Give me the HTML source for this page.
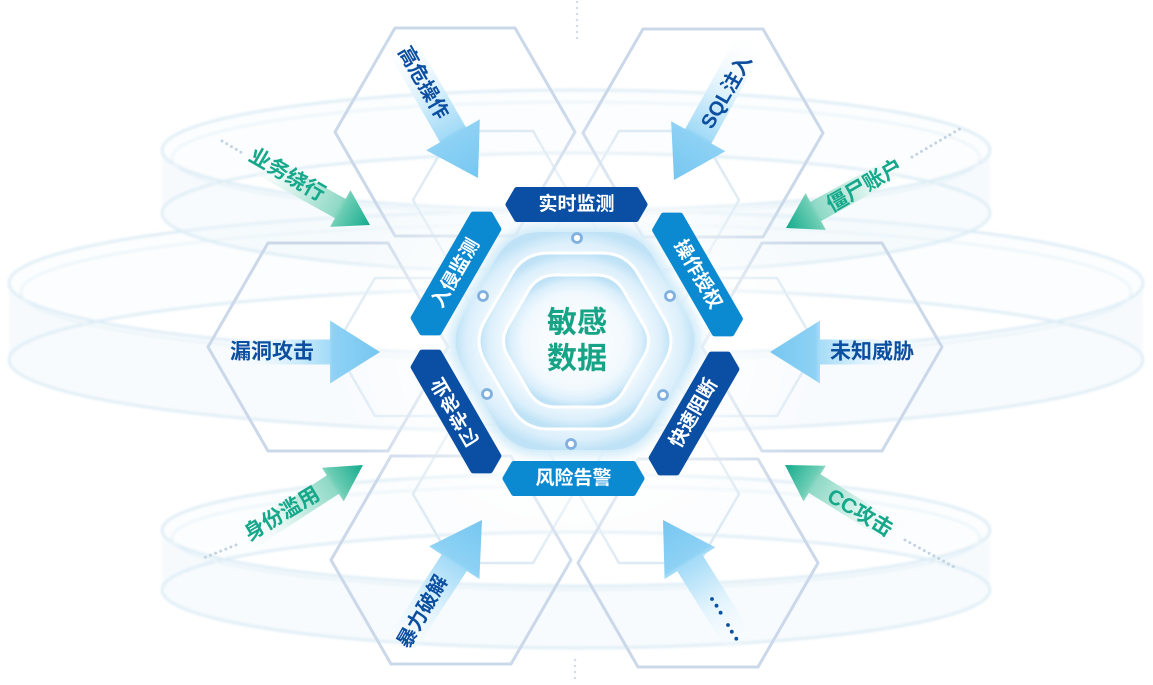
<!DOCTYPE html>
<html><head><meta charset="utf-8"><style>
html,body{margin:0;padding:0;background:#fff;}
svg{display:block;}
text{font-family:"Liberation Sans","Noto Sans CJK SC",sans-serif;}
</style></head><body>
<svg width="1153" height="685" viewBox="0 0 1153 685" xmlns="http://www.w3.org/2000/svg">
<defs>
  <linearGradient id="lb" x1="0" y1="0" x2="1" y2="0">
    <stop offset="0" stop-color="#ffffff" stop-opacity="0"/>
    <stop offset="0.4" stop-color="#dcf1fc"/>
    <stop offset="0.68" stop-color="#a4dbf7"/>
    <stop offset="0.7" stop-color="#8ed2f5"/>
    <stop offset="1" stop-color="#76c6f0"/>
  </linearGradient>
  <linearGradient id="gr" x1="0" y1="0" x2="1" y2="0">
    <stop offset="0" stop-color="#ffffff" stop-opacity="0"/>
    <stop offset="0.4" stop-color="#d6f1ea"/>
    <stop offset="0.74" stop-color="#8fd9c6"/>
    <stop offset="0.78" stop-color="#6ccdb4"/>
    <stop offset="1" stop-color="#13ab8c"/>
  </linearGradient>
  <radialGradient id="hx" cx="0.5" cy="0.5" r="0.5">
    <stop offset="0" stop-color="#ffffff"/>
    <stop offset="0.72" stop-color="#f2f9fe"/>
    <stop offset="0.9" stop-color="#dbeffb"/>
    <stop offset="1" stop-color="#bfe2f6"/>
  </radialGradient>
  <radialGradient id="glow" cx="0.5" cy="0.5" r="0.5">
    <stop offset="0" stop-color="#ffffff" stop-opacity="0.9"/>
    <stop offset="0.6" stop-color="#ffffff" stop-opacity="0.55"/>
    <stop offset="1" stop-color="#ffffff" stop-opacity="0"/>
  </radialGradient>
  <filter id="bl" x="-20%" y="-20%" width="140%" height="140%"><feGaussianBlur stdDeviation="1.2"/></filter>
  <filter id="bl4" x="-20%" y="-20%" width="140%" height="140%"><feGaussianBlur stdDeviation="5"/></filter>
</defs>

<!-- rings -->
<g filter="url(#bl)" opacity="0.8">
  <path d="M9,283 A567,72 0 0 0 1143,283 L1143,360 A567,72 0 0 1 9,360 Z" fill="#e8f3fa" opacity="0.4"/>
  <path d="M9,283 A567,72 0 0 1 1143,283 L1143,360 A567,72 0 0 0 9,360 Z" fill="#eef6fb" opacity="0.25"/>
  <ellipse cx="576" cy="283" rx="567" ry="72" fill="none" stroke="#d3e7f3" stroke-width="2.5"/>
  <ellipse cx="576" cy="360" rx="567" ry="72" fill="none" stroke="#d3e7f3" stroke-width="2.5"/>
  <ellipse cx="576" cy="292" rx="555" ry="68" fill="none" stroke="#e3f0f7" stroke-width="2"/>
  <path d="M162,150 A414,60 0 0 0 990,150 L990,213 A414,60 0 0 1 162,213 Z" fill="#e6f2f9" opacity="0.4"/>
  <path d="M162,150 A414,60 0 0 1 990,150 L990,213 A414,60 0 0 0 162,213 Z" fill="#eef6fb" opacity="0.25"/>
  <ellipse cx="576" cy="150" rx="414" ry="60" fill="none" stroke="#d3e7f3" stroke-width="2.5"/>
  <ellipse cx="576" cy="213" rx="414" ry="60" fill="none" stroke="#d3e7f3" stroke-width="2.5"/>
  <ellipse cx="576" cy="158" rx="404" ry="56" fill="none" stroke="#e3f0f7" stroke-width="2"/>
  <path d="M162,530 A414,56 0 0 0 990,530 L990,590 A414,58 0 0 1 162,590 Z" fill="#e6f2f9" opacity="0.4"/>
  <path d="M162,530 A414,56 0 0 1 990,530 L990,590 A414,58 0 0 0 162,590 Z" fill="#eef6fb" opacity="0.25"/>
  <ellipse cx="576" cy="530" rx="414" ry="56" fill="none" stroke="#d3e7f3" stroke-width="2.5"/>
  <ellipse cx="576" cy="590" rx="414" ry="58" fill="none" stroke="#d3e7f3" stroke-width="2.5"/>
  <ellipse cx="576" cy="538" rx="404" ry="52" fill="none" stroke="#e3f0f7" stroke-width="2"/>
</g>

<!-- secondary faint hexes -->
<g fill="none" stroke="#dbe9f3" stroke-width="2.5" stroke-linejoin="round">
  <polygon points="413,200 453,131 533,131 573,200 533,269 453,269"/>
  <polygon points="579,200 619,131 699,131 739,200 699,269 619,269"/>
  <polygon points="335,347 375,278 455,278 495,347 455,416 375,416"/>
  <polygon points="657,347 697,278 777,278 817,347 777,416 697,416"/>
  <polygon points="413,494 453,425 533,425 573,494 533,563 453,563"/>
  <polygon points="579,494 619,425 699,425 739,494 699,563 619,563"/>
</g>

<!-- outer hexes -->
<g fill="none" stroke="#cad8e9" stroke-width="3" stroke-linejoin="round">
  <polygon points="335,132 395,28 515,28 575,132 515,236 395,236"/>
  <polygon points="583,133 643,29 763,29 823,133 763,237 643,237"/>
  <polygon points="208,347 268,243 388,243 448,347 388,451 268,451"/>
  <polygon points="702,347 762,243 882,243 942,347 882,451 762,451"/>
  <polygon points="331,560 391,456 511,456 571,560 511,664 391,664"/>
  <polygon points="578,563 638,459 758,459 818,563 758,667 638,667"/>
</g>

<line x1="577" y1="2" x2="577" y2="40" stroke="#d3dbe5" stroke-width="2.5" stroke-linecap="round" stroke-dasharray="0 6"/>
<line x1="575" y1="660" x2="575" y2="684" stroke="#d3dbe5" stroke-width="2.5" stroke-linecap="round" stroke-dasharray="0 6"/>

<ellipse cx="576" cy="345" rx="255" ry="235" fill="url(#glow)"/>

<!-- central hexes -->
<path d="M462.1,315.1 L495.9,256.9 Q511,231 541,231 L609,231 Q639,231 654.1,256.9 L687.9,315.1 Q703,341 687.9,366.9 L654.1,425.1 Q639,451 609,451 L541,451 Q511,451 495.9,425.1 L462.1,366.9 Q447,341 462.1,315.1 Z" fill="none" stroke="#cde9f8" stroke-width="10" filter="url(#bl4)"/>
<path d="M462.1,315.1 L495.9,256.9 Q511,231 541,231 L609,231 Q639,231 654.1,256.9 L687.9,315.1 Q703,341 687.9,366.9 L654.1,425.1 Q639,451 609,451 L541,451 Q511,451 495.9,425.1 L462.1,366.9 Q447,341 462.1,315.1 Z" fill="url(#hx)" stroke="#d6edfa" stroke-width="2"/>
<path d="M485,320.2 L512,273.8 Q524,253 548,253 L602,253 Q626,253 638,273.8 L665,320.2 Q677,341 665,361.8 L638,408.2 Q626,429 602,429 L548,429 Q524,429 512,408.2 L485,361.8 Q473,341 485,320.2 Z" fill="url(#hx)" stroke="#ffffff" stroke-width="3"/>
<path d="M508.1,325.5 L528.4,290.6 Q537.5,275 555.5,275 L596.5,275 Q614.5,275 623.6,290.6 L643.9,325.5 Q653,341 643.9,356.5 L623.6,391.4 Q614.5,407 596.5,407 L555.5,407 Q537.5,407 528.4,391.4 L508.1,356.5 Q499,341 508.1,325.5 Z" fill="url(#hx)" stroke="#ffffff" stroke-width="3"/>

<text x="577" y="323" font-size="30" font-weight="bold" fill="#17a486" text-anchor="middle" dominant-baseline="central">敏感</text>
<text x="577" y="359" font-size="30" font-weight="bold" fill="#17a486" text-anchor="middle" dominant-baseline="central">数据</text>

<g fill="#ffffff" stroke="#7fb0df" stroke-width="2.8">
  <circle cx="577" cy="238" r="4.5"/>
  <circle cx="483" cy="296" r="4.5"/>
  <circle cx="670" cy="296" r="4.5"/>
  <circle cx="487" cy="394" r="4.5"/>
  <circle cx="663" cy="395" r="4.5"/>
  <circle cx="571" cy="444" r="4.5"/>
</g>

<!-- labels -->
<g font-size="19" font-weight="bold" fill="#ffffff" text-anchor="middle">
  <g transform="translate(576.5,204.5)">
    <polygon points="-68,0 -59.6,-14.5 59.6,-14.5 68,0 59.6,14.5 -59.6,14.5" fill="#0a4fa3" stroke="#0a4fa3" stroke-width="6" stroke-linejoin="round"/>
    <text x="0" y="0" dominant-baseline="central">实时监测</text>
  </g>
  <g transform="translate(573.5,478.5)">
    <polygon points="-68,0 -59.6,-14.5 59.6,-14.5 68,0 59.6,14.5 -59.6,14.5" fill="#0b89d1" stroke="#0b89d1" stroke-width="6" stroke-linejoin="round"/>
    <text x="0" y="0" dominant-baseline="central">风险告警</text>
  </g>
  <g transform="translate(456,273.5) rotate(-60)">
    <polygon points="-68,0 -59.6,-14.5 59.6,-14.5 68,0 59.6,14.5 -59.6,14.5" fill="#0b89d1" stroke="#0b89d1" stroke-width="6" stroke-linejoin="round"/>
    <text x="0" y="0" dominant-baseline="central">入侵监测</text>
  </g>
  <g transform="translate(697.5,274.5) rotate(60)">
    <polygon points="-68,0 -59.6,-14.5 59.6,-14.5 68,0 59.6,14.5 -59.6,14.5" fill="#0b89d1" stroke="#0b89d1" stroke-width="6" stroke-linejoin="round"/>
    <text x="0" y="0" dominant-baseline="central">操作授权</text>
  </g>
  <g transform="translate(456,411.5) rotate(60)">
    <polygon points="-68,0 -59.6,-14.5 59.6,-14.5 68,0 59.6,14.5 -59.6,14.5" fill="#0a4fa3" stroke="#0a4fa3" stroke-width="6" stroke-linejoin="round"/>
    <text x="0" y="0" dominant-baseline="central" transform="scale(1,-1)">业务学习</text>
  </g>
  <g transform="translate(694,413.5) rotate(-60)">
    <polygon points="-68,0 -59.6,-14.5 59.6,-14.5 68,0 59.6,14.5 -59.6,14.5" fill="#0a4fa3" stroke="#0a4fa3" stroke-width="6" stroke-linejoin="round"/>
    <text x="0" y="0" dominant-baseline="central">快速阻断</text>
  </g>
</g>

<g stroke="#c3d3e2" stroke-width="3" stroke-linecap="round" stroke-dasharray="0 5.5" fill="none">
  <line x1="222" y1="141" x2="244" y2="154"/>
  <line x1="912" y1="157" x2="963" y2="127"/>
  <line x1="236" y1="545" x2="201" y2="559"/>
  <line x1="905" y1="540" x2="956" y2="568"/>
</g>

<polygon transform="translate(478,178) rotate(60)" points="0,0 -50,-31 -50,-15 -165,-15 -165,15 -50,15 -50,31" fill="url(#lb)"/>
<polygon transform="translate(674,180) rotate(119)" points="0,0 -50,-31 -50,-15 -165,-15 -165,15 -50,15 -50,31" fill="url(#lb)"/>
<polygon transform="translate(380,352)" points="0,0 -50,-31.5 -50,-12.5 -158,-12.5 -158,12.5 -50,12.5 -50,31.5" fill="url(#lb)"/>
<polygon transform="translate(770,352) rotate(180)" points="0,0 -50,-31.5 -50,-12.5 -152,-12.5 -152,12.5 -50,12.5 -50,31.5" fill="url(#lb)"/>
<polygon transform="translate(482,520) rotate(-57)" points="0,0 -51,-30 -51,-15 -162,-15 -162,15 -51,15 -51,30" fill="url(#lb)"/>
<polygon transform="translate(663,520) rotate(-122)" points="0,0 -51,-30 -51,-15 -155,-15 -155,15 -51,15 -51,30" fill="url(#lb)"/>

<polygon transform="translate(370,225) rotate(29)" points="0,0 -34,-21 -34,-11 -142,-11 -142,11 -34,11 -34,21" fill="url(#gr)"/>
<polygon transform="translate(786,228) rotate(151)" points="0,0 -34,-21 -34,-11 -140,-11 -140,11 -34,11 -34,21" fill="url(#gr)"/>
<polygon transform="translate(363,465) rotate(-33)" points="0,0 -36,-20 -36,-11 -145,-11 -145,11 -36,11 -36,20" fill="url(#gr)"/>
<polygon transform="translate(785,465) rotate(-148)" points="0,0 -35,-21 -35,-11 -138,-11 -138,11 -35,11 -35,21" fill="url(#gr)"/>

<g text-anchor="middle" dominant-baseline="central" font-weight="bold">
  <text x="423" y="83" font-size="20" fill="#0c4ea0" transform="rotate(60 423 83)">高危操作</text>
  <text x="727" y="92" font-size="20" fill="#0c4ea0" transform="rotate(-60 727 92)">SQL注入</text>
  <text x="272" y="352" font-size="21" fill="#0c4ea0">漏洞攻击</text>
  <text x="872" y="352" font-size="21" fill="#0c4ea0">未知威胁</text>
  <text x="423" y="612" font-size="20" fill="#0c4ea0" transform="rotate(-60 423 612)">暴力破解</text>
  <text x="287" y="175" font-size="21" fill="#15a88a" transform="rotate(30 287 175)">业务绕行</text>
  <text x="865" y="186" font-size="21" fill="#15a88a" transform="rotate(-30 865 186)">僵尸账户</text>
  <text x="282" y="514" font-size="21" fill="#15a88a" transform="rotate(-31 282 514)">身份滥用</text>
  <text x="860" y="513" font-size="21" fill="#15a88a" transform="rotate(31 860 513)">CC攻击</text>
</g>

<g fill="#0b4fa0">
  <circle cx="712" cy="599" r="1.9"/>
  <circle cx="716.5" cy="605.7" r="1.9"/>
  <circle cx="720.6" cy="612.7" r="1.9"/>
  <circle cx="728" cy="625" r="1.9"/>
  <circle cx="731.8" cy="631.7" r="1.9"/>
  <circle cx="736.3" cy="638.7" r="1.9"/>
</g>
</svg>
</body></html>
